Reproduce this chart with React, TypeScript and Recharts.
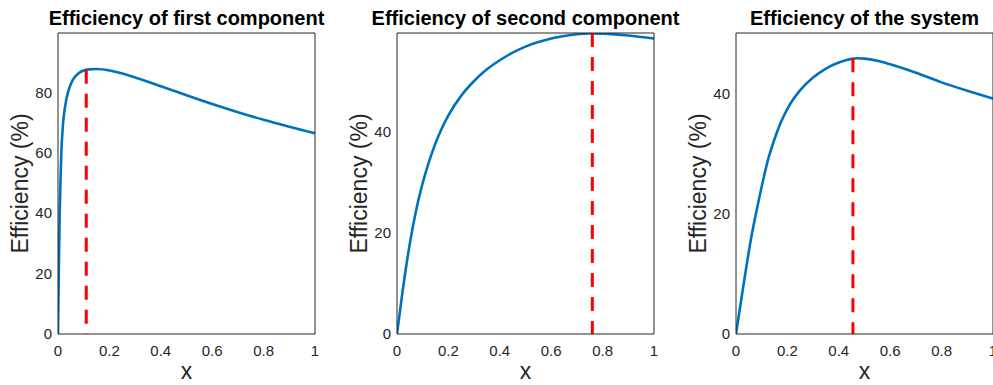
import React from 'react';
import { LineChart, Line, XAxis, YAxis, ReferenceLine } from 'recharts';

// ---- data ----
const titles = ['Efficiency of first component', 'Efficiency of second component', 'Efficiency of the system'];
const xLabel = 'x';
const yLabel = 'Efficiency (%)';
const xTicks = [0, 0.2, 0.4, 0.6, 0.8, 1];

const x1 = [0, 0.003, 0.0066, 0.01, 0.013, 0.0195, 0.028, 0.039, 0.05, 0.065, 0.08, 0.1, 0.12, 0.15, 0.2, 0.25, 0.3, 0.35, 0.4, 0.45, 0.5, 0.6, 0.7, 0.8, 0.9, 1.0];
const eff1 = [0, 20, 40, 51.5, 60, 69.5, 75.5, 80, 82.7, 85, 86.3, 87.2, 87.55, 87.7, 87.2, 86.2, 84.9, 83.5, 82.0, 80.5, 79.0, 76.1, 73.4, 70.9, 68.6, 66.4];

const x2 = [0, 0.02, 0.04, 0.06, 0.08, 0.1, 0.125, 0.15, 0.175, 0.2, 0.25, 0.3, 0.35, 0.4, 0.45, 0.5, 0.55, 0.6, 0.65, 0.7, 0.75, 0.8, 0.9, 1.0];
const eff2 = [0, 7.8, 14.8, 20.8, 25.8, 29.9, 34.2, 37.8, 40.8, 43.3, 47.2, 50.1, 52.4, 54.2, 55.7, 56.9, 57.8, 58.5, 59.0, 59.35, 59.5, 59.45, 59.1, 58.5];

const x3 = [0, 0.02, 0.04, 0.06, 0.08, 0.1, 0.125, 0.15, 0.175, 0.2, 0.25, 0.3, 0.35, 0.4, 0.45, 0.47, 0.5, 0.55, 0.6, 0.7, 0.8, 0.9, 1.0];
const eff3 = [0, 5.6, 11.1, 16.2, 20.5, 24.5, 29.0, 32.4, 35.2, 37.4, 40.5, 42.6, 44.1, 45.1, 45.7, 45.8, 45.75, 45.4, 44.8, 43.4, 41.8, 40.4, 39.1];

const yTicks1 = [0, 20, 40, 60, 80];
const yTicks2 = [0, 20, 40];
const yTicks3 = [0, 20, 40];
const yMax = [99.6, 59.6, 50];

const optimumX = [0.11, 0.76, 0.455];
const optimumEff = [87.4, 59.6, 45.8];

// ---- style ----
const FONT = '"Liberation Sans", Arial, Helvetica, sans-serif';
const AX = '#262626';
const BLUE = '#0072BD';
const RED = '#FF0000';
const PLOT_LEFT = [58, 397, 736];
const PLOT_W = 257;
const PLOT_TOP = 33;
const PLOT_BOTTOM = 334;
const YAXIS_W = 50;

const panels = [
  { xs: x1, ys: eff1, yTicks: yTicks1 },
  { xs: x2, ys: eff2, yTicks: yTicks2 },
  { xs: x3, ys: eff3, yTicks: yTicks3 },
];

function Panel({ idx }: { idx: number }) {
  const p = panels[idx];
  const data = p.xs.map((x, i) => ({ x, y: p.ys[i] }));
  const domY: [number, number] = [0, yMax[idx]];
  const left = PLOT_LEFT[idx] - YAXIS_W;
  const width = YAXIS_W + PLOT_W + 15;
  return (
    <div style={{ position: 'absolute', left, top: 0 }}>
      <LineChart
        width={width}
        height={385}
        data={data}
        margin={{ top: PLOT_TOP, right: 15, bottom: 385 - PLOT_BOTTOM - 30, left: 0 }}
      >
        <XAxis
          xAxisId="b"
          type="number"
          dataKey="x"
          domain={[0, 1]}
          ticks={xTicks}
          allowDataOverflow
          height={30}
          tickLine={false}
          tickSize={0}
          tickMargin={11}
          axisLine={{ stroke: AX, strokeWidth: 1 }}
          tick={{ fill: AX, fontSize: 15, fontFamily: FONT }}
        />
        <XAxis
          xAxisId="bm"
          type="number"
          dataKey="x"
          domain={[0, 1]}
          ticks={xTicks}
          allowDataOverflow
          mirror
          tick={false}
          tickSize={4}
          axisLine={false}
          tickLine={{ stroke: AX }}
        />
        <XAxis
          xAxisId="t"
          orientation="top"
          type="number"
          dataKey="x"
          domain={[0, 1]}
          ticks={xTicks}
          allowDataOverflow
          mirror
          tick={false}
          tickSize={4}
          axisLine={{ stroke: AX, strokeWidth: 1 }}
          tickLine={{ stroke: AX }}
        />
        <YAxis
          yAxisId="l"
          type="number"
          domain={domY}
          ticks={p.yTicks}
          allowDataOverflow
          width={YAXIS_W}
          tickLine={false}
          tickSize={0}
          tickMargin={6}
          axisLine={{ stroke: AX, strokeWidth: 1 }}
          tick={{ fill: AX, fontSize: 15, fontFamily: FONT }}
        />
        <YAxis
          yAxisId="lm"
          type="number"
          domain={domY}
          ticks={p.yTicks}
          allowDataOverflow
          mirror
          tick={false}
          tickSize={4}
          axisLine={false}
          tickLine={{ stroke: AX }}
        />
        <YAxis
          yAxisId="r"
          orientation="right"
          type="number"
          domain={domY}
          ticks={p.yTicks}
          allowDataOverflow
          mirror
          tick={false}
          tickSize={4}
          axisLine={{ stroke: AX, strokeWidth: 1 }}
          tickLine={{ stroke: AX }}
        />
        <Line
          xAxisId="b"
          yAxisId="l"
          type="monotone"
          dataKey="y"
          stroke={BLUE}
          strokeWidth={2.6}
          dot={false}
          activeDot={false}
          isAnimationActive={false}
        />
        <ReferenceLine
          xAxisId="b"
          yAxisId="l"
          segment={[
            { x: optimumX[idx], y: optimumEff[idx] },
            { x: optimumX[idx], y: 0 },
          ]}
          stroke={RED}
          strokeWidth={3}
          strokeDasharray="14 10"
          ifOverflow="visible"
        />
      </LineChart>
    </div>
  );
}

export default function App() {
  return (
    <div
      style={{
        position: 'absolute',
        left: 0,
        top: 0,
        width: 993,
        height: 385,
        overflow: 'hidden',
        background: '#ffffff',
      }}
    >
      {[0, 1, 2].map((i) => (
        <Panel key={i} idx={i} />
      ))}
      <svg
        width={993}
        height={385}
        style={{ position: 'absolute', left: 0, top: 0, pointerEvents: 'none' }}
      >
        {[0, 1, 2].map((i) => {
          const cx = PLOT_LEFT[i] + PLOT_W / 2;
          const cy = (PLOT_TOP + PLOT_BOTTOM) / 2;
          const lx = PLOT_LEFT[i] - 30;
          return (
            <g key={i}>
              <text
                x={cx}
                y={25}
                textAnchor="middle"
                fontFamily={FONT}
                fontSize={20}
                fontWeight="bold"
                fill="#000000"
              >
                {titles[i]}
              </text>
              <text
                x={cx}
                y={379}
                textAnchor="middle"
                fontFamily={FONT}
                fontSize={23}
                fill={AX}
              >
                {xLabel}
              </text>
              <text
                x={lx}
                y={cy}
                textAnchor="middle"
                fontFamily={FONT}
                fontSize={23}
                fill={AX}
                transform={`rotate(-90 ${lx} ${cy})`}
              >
                {yLabel}
              </text>
            </g>
          );
        })}
      </svg>
    </div>
  );
}
